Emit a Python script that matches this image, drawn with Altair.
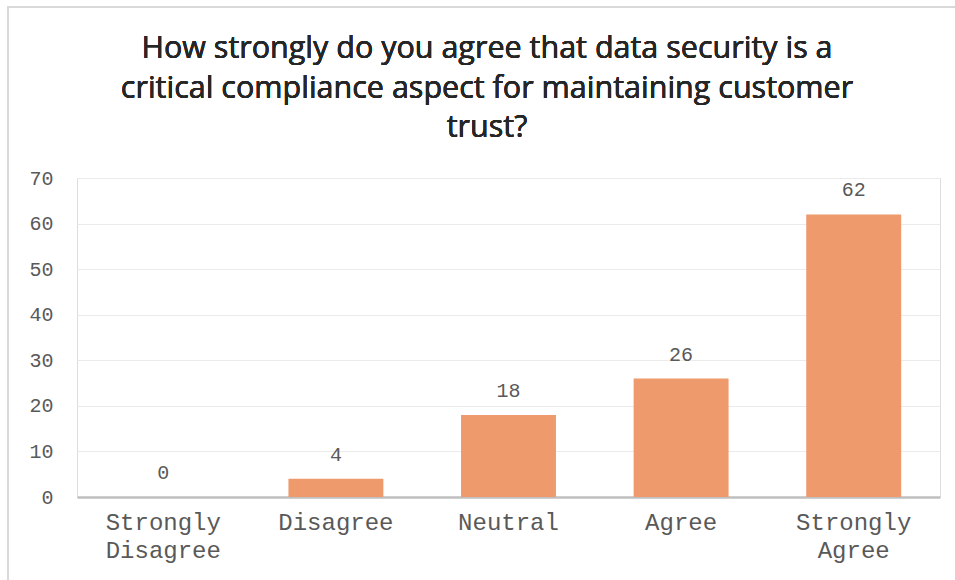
import altair as alt
import pandas as pd

categories = ["Strongly Disagree", "Disagree", "Neutral", "Agree", "Strongly Agree"]
values = [0, 4, 18, 26, 62]
title_lines = [
    "How strongly do you agree that data security is a",
    "critical compliance aspect for maintaining customer",
    "trust?",
]

df = pd.DataFrame({"category": categories, "value": values})

BAR = "#EE9A6C"
MONO = "Liberation Mono"
TITLE_FONT = "Open Sans"

x_enc = alt.X(
    "category:N",
    sort=categories,
    scale=alt.Scale(paddingInner=0.45, paddingOuter=0.225),
    axis=alt.Axis(
        title=None,
        labelAngle=0,
        labelFont=MONO,
        labelFontSize=24,
        labelColor="#595959",
        labelPadding=13,
        labelLineHeight=28,
        labelExpr="split(datum.label, ' ')",
        ticks=False,
        domain=True,
        domainColor="#BFBFBF",
        domainWidth=2.5,
        grid=False,
    ),
)
y_enc = alt.Y(
    "value:Q",
    scale=alt.Scale(domain=[0, 70], nice=False),
    axis=alt.Axis(
        title=None,
        values=[0, 10, 20, 30, 40, 50, 60, 70],
        labelFont=MONO,
        labelFontSize=20,
        labelColor="#595959",
        labelPadding=24,
        ticks=False,
        domain=False,
        grid=True,
        gridColor="#EBEBEB",
        gridWidth=1.2,
    ),
)

bars = alt.Chart(df).mark_bar(color=BAR).encode(x=x_enc, y=y_enc)
labels = alt.Chart(df).mark_text(
    font=MONO, fontSize=20, color="#595959", baseline="alphabetic", dy=-18
).encode(x=alt.X("category:N", sort=categories), y="value:Q", text="value:Q")

title_mark = alt.Chart(df).mark_text(
    text=title_lines,
    font=TITLE_FONT,
    fontSize=30.5,
    fontWeight="normal",
    color="#262626",
    lineHeight=39.5,
    align="center",
    baseline="alphabetic",
).encode(x=alt.value(410), y=alt.value(-120))

border_left = alt.Chart(df).mark_rule(color="#D9D9D9", strokeWidth=2).encode(
    x=alt.value(-69), y=alt.value(-171), y2=alt.value(410)
)
border_top = alt.Chart(df).mark_rule(color="#D9D9D9", strokeWidth=2).encode(
    x=alt.value(-70), x2=alt.value(890), y=alt.value(-171)
)

chart = (
    alt.layer(bars, labels, title_mark, border_left, border_top)
    .properties(
        width=863,
        height=319,
        autosize=alt.AutoSizeParams(type="none"),
        padding={"left": 77, "top": 178, "right": 15, "bottom": 83},
    )
    .configure_view(stroke=None)
    .configure(background="white")
)

chart.save("out.html", embed_options={"renderer": "svg", "actions": False})
